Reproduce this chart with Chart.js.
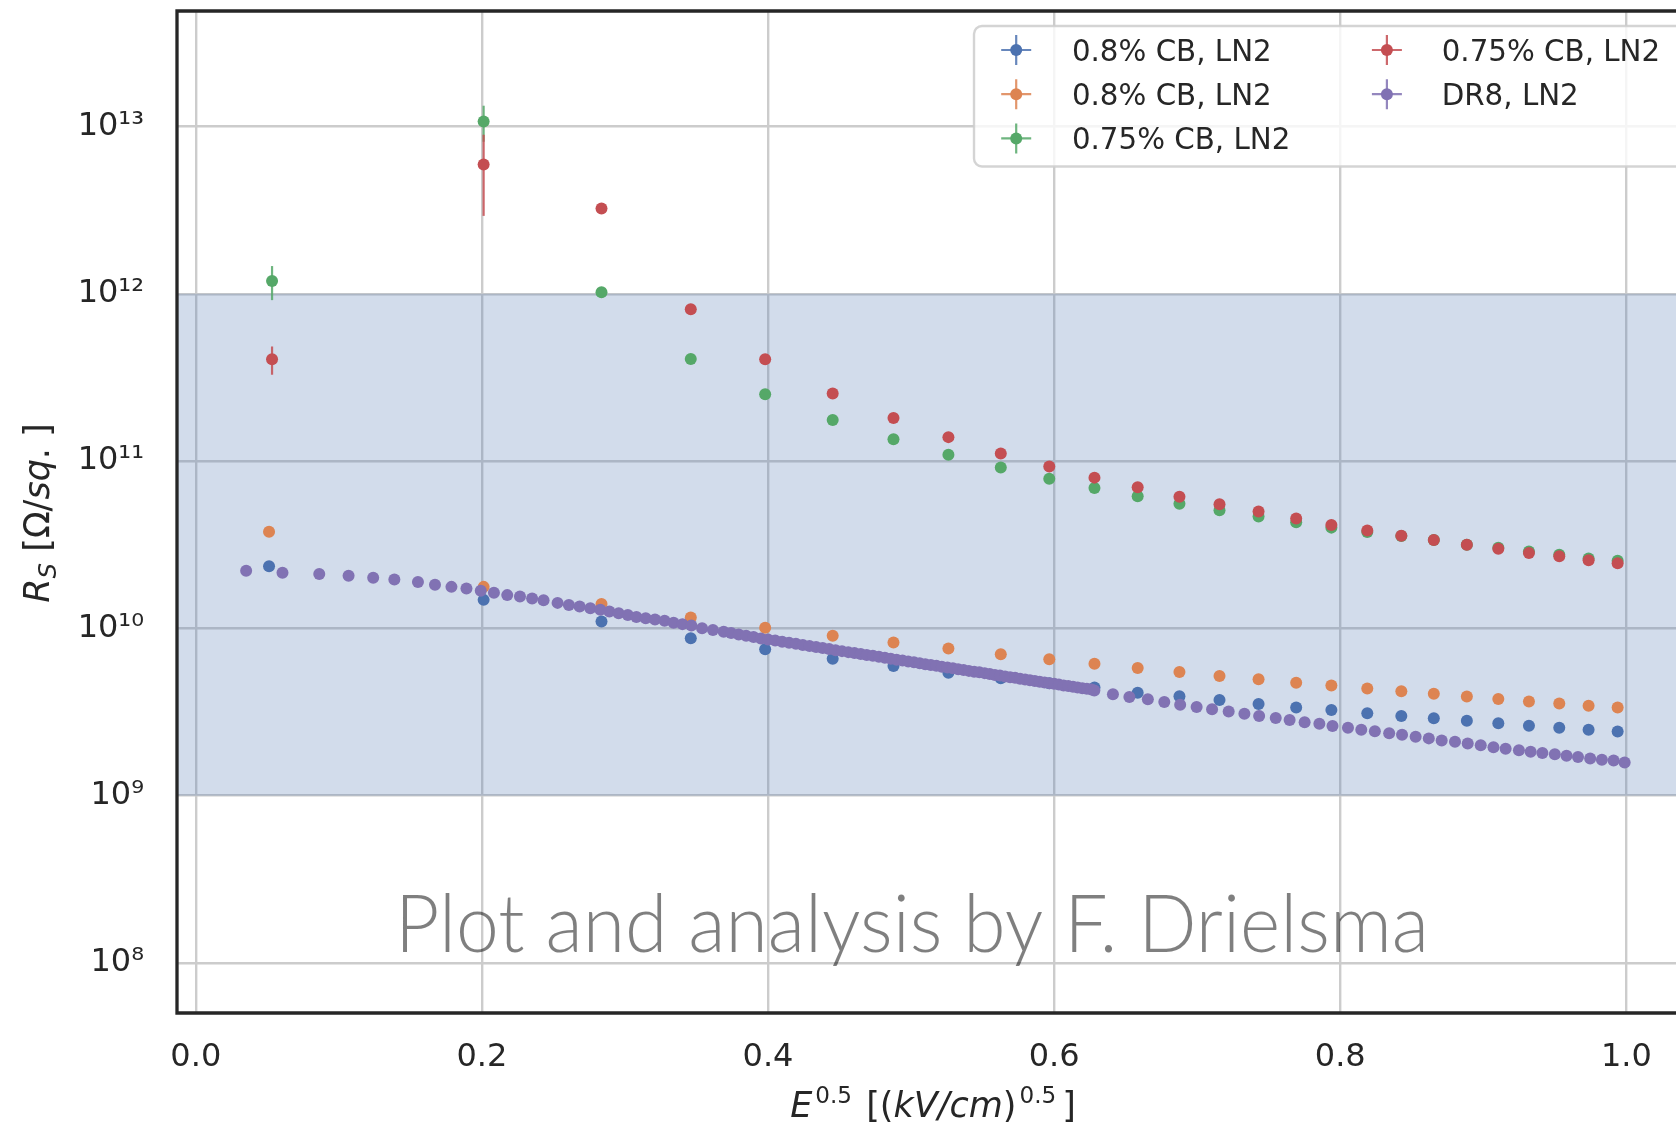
<!DOCTYPE html>
<html>
<head>
<meta charset="utf-8">
<script src="https://cdn.jsdelivr.net/npm/chart.js@4.4.1/dist/chart.umd.min.js"></script>
<style>
html,body{margin:0;padding:0;background:#ffffff;}
#wrap{width:1676px;height:1123px;position:relative;overflow:hidden;}
</style>
</head>
<body>
<div id="wrap"><canvas id="c" width="1676" height="1123"></canvas></div>
<script>
// ---------------- data ----------------
const seriesLabels = ['0.8% CB, LN2', '0.8% CB, LN2', '0.75% CB, LN2', '0.75% CB, LN2', 'DR8, LN2'];

// E^0.5 [(kV/cm)^0.5] for the carbon-black samples
const xCB08 = [0.0512, 0.2012, 0.2836, 0.3460, 0.3980, 0.4452, 0.4877, 0.5261, 0.5627, 0.5966,
  0.6282, 0.6584, 0.6876, 0.7156, 0.7429, 0.7692, 0.7938, 0.8189, 0.8427, 0.8654,
  0.8885, 0.9105, 0.9319, 0.9531, 0.9736, 0.9939];
const xCB075 = [0.0533, 0.2012, 0.2836, 0.3460, 0.3980, 0.4452, 0.4877, 0.5261, 0.5627, 0.5966,
  0.6282, 0.6584, 0.6876, 0.7156, 0.7429, 0.7692, 0.7938, 0.8189, 0.8427, 0.8654,
  0.8885, 0.9105, 0.9319, 0.9531, 0.9736, 0.9939];

// R_S [Ohm/sq.]
const rsBlue = [2.35e10, 1.48e10, 1.10e10, 8.73e9, 7.50e9, 6.59e9, 5.96e9, 5.43e9, 5.04e9, 4.70e9,
  4.43e9, 4.12e9, 3.93e9, 3.73e9, 3.53e9, 3.37e9, 3.25e9, 3.11e9, 2.99e9, 2.90e9,
  2.80e9, 2.71e9, 2.62e9, 2.55e9, 2.48e9, 2.42e9];
const rsOrange = [3.78e10, 1.77e10, 1.40e10, 1.16e10, 1.01e10, 9.04e9, 8.22e9, 7.57e9, 7.00e9, 6.53e9,
  6.15e9, 5.79e9, 5.48e9, 5.19e9, 4.97e9, 4.73e9, 4.55e9, 4.37e9, 4.21e9, 4.06e9,
  3.91e9, 3.78e9, 3.66e9, 3.55e9, 3.45e9, 3.36e9];
const rsGreen = [1.19e12, 1.07e13, 1.02e12, 4.07e11, 2.51e11, 1.76e11, 1.35e11, 1.09e11, 9.14e10, 7.85e10,
  6.90e10, 6.17e10, 5.55e10, 5.08e10, 4.66e10, 4.31e10, 4.00e10, 3.77e10, 3.56e10, 3.37e10,
  3.16e10, 3.03e10, 2.88e10, 2.75e10, 2.62e10, 2.54e10];
const rsRed = [4.06e11, 5.92e12, 3.23e12, 8.07e11, 4.06e11, 2.53e11, 1.81e11, 1.39e11, 1.11e11, 9.27e10,
  7.96e10, 6.97e10, 6.12e10, 5.52e10, 4.99e10, 4.53e10, 4.15e10, 3.85e10, 3.58e10, 3.37e10,
  3.16e10, 2.99e10, 2.82e10, 2.70e10, 2.55e10, 2.45e10];
const errGreen = [2.74e11, 2.6e12, 0, 0, 0, 0, 0, 0, 0, 0, 0, 0, 0, 0, 0, 0, 0, 0, 0, 0, 0, 0, 0, 0, 0, 0];
const errRed = [7.8e10, 3.0e12, 0, 0, 0, 0, 0, 0, 0, 0, 0, 0, 0, 0, 0, 0, 0, 0, 0, 0, 0, 0, 0, 0, 0, 0];

// DR8 sample
const xDR8 = [0.0352, 0.0606, 0.0863, 0.1068, 0.1240, 0.1388, 0.1553, 0.1672, 0.1787, 0.1892,
  0.1992, 0.2084, 0.2177, 0.2266, 0.2351, 0.2431, 0.2529, 0.2608, 0.2683, 0.2758,
  0.2828, 0.2891, 0.2956, 0.3020, 0.3080, 0.3145, 0.3210, 0.3277, 0.3340, 0.3402,
  0.3464, 0.3539, 0.3615, 0.3690,
  0.3742, 0.3795, 0.3847, 0.3899, 0.3950, 0.4000, 0.4050, 0.4099, 0.4147, 0.4195,
  0.4243, 0.4290, 0.4336, 0.4382, 0.4427, 0.4472, 0.4517, 0.4561, 0.4604, 0.4648,
  0.4690, 0.4733, 0.4775, 0.4817, 0.4858, 0.4899, 0.4940, 0.4980, 0.5020, 0.5060,
  0.5099, 0.5138, 0.5177, 0.5215, 0.5254, 0.5292, 0.5329, 0.5367, 0.5404, 0.5441,
  0.5477, 0.5514, 0.5550, 0.5586, 0.5621, 0.5657, 0.5692, 0.5727, 0.5762, 0.5797,
  0.5831, 0.5865, 0.5899, 0.5933, 0.5967, 0.6000, 0.6033, 0.6066, 0.6099, 0.6132,
  0.6164, 0.6197, 0.6229, 0.6261, 0.6281,
  0.6411, 0.6526, 0.6655, 0.6770, 0.6881, 0.6996, 0.7104, 0.7220, 0.7330, 0.7433,
  0.7549, 0.7646, 0.7751, 0.7854, 0.7946, 0.8054, 0.8147, 0.8242, 0.8342, 0.8432,
  0.8527, 0.8619, 0.8709, 0.8802, 0.8891, 0.8982, 0.9071, 0.9156, 0.9249, 0.9331,
  0.9413, 0.9500, 0.9582, 0.9662, 0.9747, 0.9829, 0.9911, 0.9988];
const rsDR8 = [2.21e10, 2.15e10, 2.11e10, 2.06e10, 2.01e10, 1.96e10, 1.89e10, 1.82e10, 1.77e10, 1.73e10,
  1.68e10, 1.63e10, 1.58e10, 1.55e10, 1.51e10, 1.47e10, 1.42e10, 1.38e10, 1.35e10, 1.32e10,
  1.29e10, 1.26e10, 1.23e10, 1.20e10, 1.17e10, 1.15e10, 1.13e10, 1.11e10, 1.08e10, 1.06e10,
  1.04e10, 1.00e10, 9.77e9, 9.55e9,
  9.38e9, 9.20e9, 9.04e9, 8.87e9, 8.71e9, 8.59e9, 8.45e9, 8.32e9, 8.20e9, 8.09e9,
  7.96e9, 7.85e9, 7.74e9, 7.64e9, 7.52e9, 7.41e9, 7.31e9, 7.21e9, 7.13e9, 7.03e9,
  6.93e9, 6.85e9, 6.76e9, 6.67e9, 6.59e9, 6.50e9, 6.43e9, 6.34e9, 6.27e9, 6.19e9,
  6.11e9, 6.04e9, 5.97e9, 5.90e9, 5.83e9, 5.77e9, 5.70e9, 5.64e9, 5.57e9, 5.51e9,
  5.46e9, 5.40e9, 5.33e9, 5.27e9, 5.22e9, 5.16e9, 5.11e9, 5.06e9, 5.00e9, 4.95e9,
  4.90e9, 4.85e9, 4.80e9, 4.75e9, 4.70e9, 4.66e9, 4.61e9, 4.56e9, 4.52e9, 4.48e9,
  4.43e9, 4.39e9, 4.35e9, 4.31e9, 4.25e9,
  4.04e9, 3.89e9, 3.77e9, 3.63e9, 3.50e9, 3.39e9, 3.28e9, 3.18e9, 3.09e9, 2.99e9,
  2.91e9, 2.83e9, 2.75e9, 2.69e9, 2.61e9, 2.55e9, 2.48e9, 2.43e9, 2.36e9, 2.31e9,
  2.25e9, 2.20e9, 2.14e9, 2.10e9, 2.05e9, 2.00e9, 1.95e9, 1.91e9, 1.87e9, 1.83e9,
  1.80e9, 1.77e9, 1.73e9, 1.70e9, 1.67e9, 1.64e9, 1.62e9, 1.58e9];

const xTicks = [0.0, 0.2, 0.4, 0.6, 0.8, 1.0];
const xTickLabels = ['0.0', '0.2', '0.4', '0.6', '0.8', '1.0'];
const yTicks = [1e8, 1e9, 1e10, 1e11, 1e12, 1e13];
const yTickLabels = ['10\u2078', '10\u2079', '10\u00B9\u2070', '10\u00B9\u00B9', '10\u00B9\u00B2', '10\u00B9\u00B3'];
const bandRange = [1e9, 1e12];
const watermarkText = 'Plot and analysis by F. Drielsma';

// ---------------- styling ----------------
const colors = ['#4C72B0', '#DD8452', '#55A868', '#C44E52', '#8172B3'];
const TXT = '#262626';
const FAM = '"DejaVu Sans"';
Chart.defaults.font.family = FAM;
Chart.defaults.color = TXT;

function pts(xs, ys) { return xs.map((x, i) => ({ x: x, y: ys[i] })); }

const common = { pointRadius: 6, pointHoverRadius: 6, pointBorderWidth: 0, borderWidth: 0, showLine: false };
const datasets = [
  Object.assign({ label: seriesLabels[0], data: pts(xCB08, rsBlue), backgroundColor: colors[0], borderColor: colors[0], order: 5 }, common),
  Object.assign({ label: seriesLabels[1], data: pts(xCB08, rsOrange), backgroundColor: colors[1], borderColor: colors[1], order: 4 }, common),
  Object.assign({ label: seriesLabels[2], data: pts(xCB075, rsGreen), errs: errGreen, backgroundColor: colors[2], borderColor: colors[2], order: 3 }, common),
  Object.assign({ label: seriesLabels[3], data: pts(xCB075, rsRed), errs: errRed, backgroundColor: colors[3], borderColor: colors[3], order: 2 }, common),
  Object.assign({ label: seriesLabels[4], data: pts(xDR8, rsDR8), backgroundColor: colors[4], borderColor: colors[4], order: 1 }, common)
];

function fontOf(p, size) {
  return (p.it ? 'italic ' : '') + (size * (p.s || 1)).toFixed(2) + 'px ' + FAM;
}
function drawRich(ctx, parts, size, cx, by) {
  let w = 0;
  for (const p of parts) { ctx.font = fontOf(p, size); p.w = ctx.measureText(p.t).width; w += p.w + (p.g || 0); }
  let x = cx - w / 2;
  for (const p of parts) {
    x += (p.g || 0);
    ctx.font = fontOf(p, size);
    ctx.fillText(p.t, x, by + (p.dy || 0) * size);
    x += p.w;
  }
}

const decor = {
  id: 'decor',
  beforeDatasetsDraw(chart) {
    const { ctx, chartArea: a, scales: { y } } = chart;
    const yTop = y.getPixelForValue(bandRange[1]);
    const yBot = y.getPixelForValue(bandRange[0]);
    ctx.save();
    ctx.fillStyle = 'rgba(76,114,176,0.25)';
    ctx.fillRect(a.left, yTop, a.right - a.left, yBot - yTop);
    ctx.restore();
  },
  beforeDatasetDraw(chart, args) {
    const ds = chart.data.datasets[args.index];
    if (!ds.errs) return;
    const { ctx, scales: { x, y } } = chart;
    ctx.save();
    ctx.strokeStyle = ds.backgroundColor;
    ctx.globalAlpha = 0.85;
    ctx.lineWidth = 2.2;
    ds.data.forEach((p, i) => {
      const e = ds.errs[i];
      if (!e) return;
      const px = x.getPixelForValue(p.x);
      ctx.beginPath();
      ctx.moveTo(px, y.getPixelForValue(p.y + e));
      ctx.lineTo(px, y.getPixelForValue(p.y - e));
      ctx.stroke();
    });
    ctx.restore();
  },
  afterDraw(chart) {
    const { ctx, chartArea: a } = chart;
    // watermark
    ctx.save();
    ctx.font = '300 80px Lato';
    const w = ctx.measureText(watermarkText).width;
    ctx.translate(395, 951.5);
    ctx.scale(1034 / w, 1);
    ctx.fillStyle = 'rgba(0,0,0,0.5)';
    ctx.textBaseline = 'alphabetic';
    ctx.fillText(watermarkText, 0, 0);
    ctx.restore();

    // spines
    ctx.save();
    ctx.strokeStyle = TXT;
    ctx.lineWidth = 3.3;
    ctx.lineCap = 'square';
    ctx.beginPath();
    ctx.moveTo(a.right + 5, a.top);
    ctx.lineTo(a.left, a.top);
    ctx.lineTo(a.left, a.bottom);
    ctx.lineTo(a.right + 5, a.bottom);
    ctx.stroke();
    ctx.restore();

    // axis titles
    ctx.save();
    ctx.fillStyle = TXT;
    ctx.textBaseline = 'alphabetic';
    drawRich(ctx, [
      { t: 'E', it: 1 },
      { t: '0.5', s: 0.66, dy: -0.4, g: 3 },
      { t: ' [(', g: 3 },
      { t: 'kV/cm', it: 1 },
      { t: ')' },
      { t: '0.5', s: 0.66, dy: -0.4, g: 3 },
      { t: ']', g: 6 }
    ], 35, 933, 1116.5);
    ctx.translate(49, 513);
    ctx.rotate(-Math.PI / 2);
    drawRich(ctx, [
      { t: 'R', it: 1 },
      { t: 'S', it: 1, s: 0.7, dy: 0.2 },
      { t: ' [\u03A9/' },
      { t: 'sq', it: 1 },
      { t: '. ]' }
    ], 35, 0, 0);
    ctx.restore();

    // legend
    ctx.save();
    const L = { left: 974, top: 26, bottom: 166.5, right: 1710, r: 8 };
    ctx.beginPath();
    ctx.moveTo(L.left + L.r, L.top);
    ctx.lineTo(L.right, L.top);
    ctx.lineTo(L.right, L.bottom);
    ctx.lineTo(L.left + L.r, L.bottom);
    ctx.arcTo(L.left, L.bottom, L.left, L.bottom - L.r, L.r);
    ctx.lineTo(L.left, L.top + L.r);
    ctx.arcTo(L.left, L.top, L.left + L.r, L.top, L.r);
    ctx.closePath();
    ctx.fillStyle = 'rgba(255,255,255,0.8)';
    ctx.fill();
    ctx.strokeStyle = 'rgba(204,204,204,0.85)';
    ctx.lineWidth = 2.4;
    ctx.stroke();
    const slots = [[0, 0], [0, 1], [0, 2], [1, 0], [1, 1]];
    const colMarker = [1016.2, 1386.9], colText = [1071.9, 1441.7], rowY = [50, 94.2, 138.4];
    chart.data.datasets.forEach((ds, i) => {
      const [c, r] = slots[i];
      const cx = colMarker[c], cy = rowY[r];
      ctx.strokeStyle = ds.backgroundColor;
      ctx.globalAlpha = 0.85;
      ctx.lineWidth = 2.2;
      ctx.beginPath();
      ctx.moveTo(cx - 15, cy); ctx.lineTo(cx + 15, cy);
      ctx.moveTo(cx, cy - 15); ctx.lineTo(cx, cy + 15);
      ctx.stroke();
      ctx.globalAlpha = 1;
      ctx.fillStyle = ds.backgroundColor;
      ctx.beginPath();
      ctx.arc(cx, cy, 6, 0, Math.PI * 2);
      ctx.fill();
      ctx.fillStyle = TXT;
      ctx.font = '29.3px ' + FAM;
      ctx.textBaseline = 'alphabetic';
      ctx.fillText(ds.label, colText[c], cy + 10.7);
    });
    ctx.restore();
  }
};

function noPad(s) { s.paddingTop = 0; s.paddingBottom = 0; s.paddingLeft = 0; s.paddingRight = 0; }

new Chart(document.getElementById('c'), {
  type: 'scatter',
  data: { datasets: datasets },
  options: {
    responsive: false,
    animation: false,
    devicePixelRatio: 1,
    events: [],
    layout: { autoPadding: false, padding: { left: 0, right: 0, top: 11, bottom: 0 } },
    plugins: { legend: { display: false }, tooltip: { enabled: false } },
    scales: {
      x: {
        type: 'linear',
        min: -0.01314,
        max: 1.0347,
        afterBuildTicks: s => { s.ticks = xTicks.map(v => ({ value: v })); },
        afterFit: s => { s.height = 110; noPad(s); },
        grid: { color: '#cccccc', lineWidth: 2.4, drawTicks: false },
        border: { display: false },
        ticks: {
          padding: 25, color: TXT, font: { size: 32 }, maxRotation: 0, autoSkip: false,
          callback: (v, i) => xTickLabels[i]
        }
      },
      y: {
        type: 'logarithmic',
        min: 5.023e7,
        max: 4.898e13,
        afterBuildTicks: s => { s.ticks = yTicks.map(v => ({ value: v })); },
        afterFit: s => { s.width = 177; noPad(s); },
        grid: { color: '#cccccc', lineWidth: 2.4, drawTicks: false },
        border: { display: false },
        ticks: {
          padding: 33, color: TXT, font: { size: 32 }, autoSkip: false,
          callback: (v, i) => yTickLabels[i]
        }
      }
    }
  },
  plugins: [decor]
});
</script>
</body>
</html>
